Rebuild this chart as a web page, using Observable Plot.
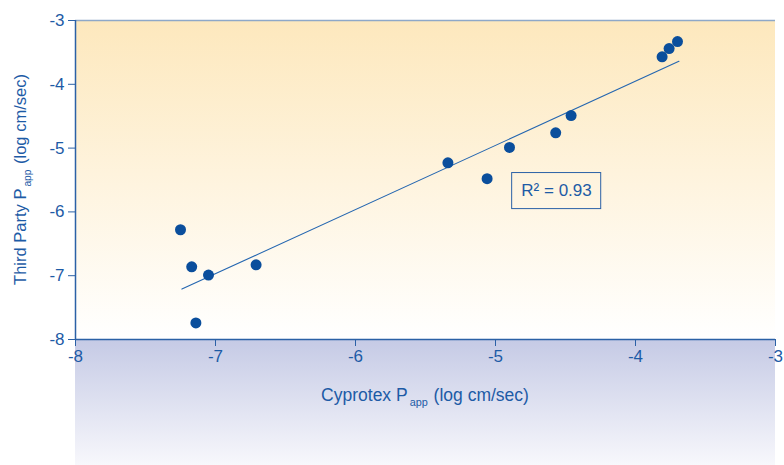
<!DOCTYPE html>
<html>
<head>
<meta charset="utf-8">
<script src="https://cdn.jsdelivr.net/npm/d3@7"></script>
<script src="https://cdn.jsdelivr.net/npm/@observablehq/plot@0.6"></script>
<style>
  html, body { margin: 0; padding: 0; background: #ffffff; }
  #chart svg { display: block; }
</style>
</head>
<body>
<div id="chart"></div>
<script>
// Data
const cyprotex   = [-7.25, -7.17, -7.05, -7.14, -6.71, -5.34, -5.06, -4.90, -4.57, -4.46, -3.81, -3.76, -3.70];
const thirdParty = [-6.28, -6.86, -6.99, -7.74, -6.83, -5.23, -5.48, -4.99, -4.76, -4.49, -3.57, -3.44, -3.33];
const fitX = [-7.24, -3.69];
const fitY = [-7.21, -3.64];
const xTicks = [-8, -7, -6, -5, -4, -3];
const yTicks = [-8, -7, -6, -5, -4, -3];
const r2Label = "R\u00B2 = 0.93";
const r2Pos = {x: -4.564, y: -5.67};
const r2Box = {x1: -4.881, x2: -4.245, y1: -5.391, y2: -5.956};
const xLabel = ["Cyprotex P", "app", " (log cm/sec)"];
const yLabel = ["Third Party P", "app", " (log cm/sec)"];

const points = cyprotex.map((x, i) => ({x, y: thirdParty[i]}));
const fit = fitX.map((x, i) => ({x, y: fitY[i]}));

const ink = "#1d5ba6";
const axisStroke = "#2b61a6";
const fmt = d => String(d);
const font = "'Liberation Sans', Arial, sans-serif";

const svg = Plot.plot({
  width: 784,
  height: 465,
  marginLeft: 75,
  marginRight: 9,
  marginTop: 20,
  marginBottom: 126,
  style: {background: "#ffffff", fontFamily: font, fontSize: "17px", color: ink},
  x: {domain: [-8, -3], label: null},
  y: {domain: [-8, -3], label: null},
  marks: [
    Plot.rect([0], {x1: -8, x2: -3, y1: -8, y2: -3, fill: "url(#plotGrad)"}),
    Plot.rect([0], {x1: -8, x2: -3, y1: -8, y2: -10, fill: "url(#bandGrad)"}),
    Plot.ruleY([-3], {stroke: "#8ea8c8", strokeWidth: 1.5}),
    Plot.axisX({ticks: xTicks, tickFormat: fmt, tickSize: 7, tickPadding: 3, stroke: axisStroke, fill: ink, fontSize: 17, label: null}),
    Plot.axisY({ticks: yTicks, tickFormat: fmt, tickSize: 7, tickPadding: 4, stroke: axisStroke, fill: ink, fontSize: 17, label: null}),
    Plot.ruleX([-8], {stroke: axisStroke, strokeWidth: 1.5}),
    Plot.ruleY([-8], {stroke: axisStroke, strokeWidth: 1.5}),
    Plot.line(fit, {x: "x", y: "y", stroke: "#2466b0", strokeWidth: 1.1}),
    Plot.dot(points, {x: "x", y: "y", r: 5.5, fill: "#0a4e9c"}),
    Plot.rect([r2Box], {x1: "x1", x2: "x2", y1: "y1", y2: "y2", fill: "none", stroke: axisStroke, strokeWidth: 1}),
    Plot.text([r2Pos], {x: "x", y: "y", text: () => r2Label, fill: ink, fontSize: 17})
  ]
});

const s = d3.select(svg);
s.insert("defs", ":first-child").html(`
  <linearGradient id="plotGrad" x1="0" y1="0" x2="0" y2="1">
    <stop offset="0" stop-color="#fde8bd"/>
    <stop offset="1" stop-color="#ffffff"/>
  </linearGradient>
  <linearGradient id="bandGrad" x1="0" y1="0" x2="0" y2="1">
    <stop offset="0" stop-color="#c5cae5"/>
    <stop offset="1" stop-color="#f8f8fc"/>
  </linearGradient>
`);

const xs = svg.scale("x"), ys = svg.scale("y");
const cx = (xs.range[0] + xs.range[1]) / 2;
const cy = (ys.range[0] + ys.range[1]) / 2;

function addLabel(parts, x, y, rotate, size) {
  const t = s.append("text")
    .attr("text-anchor", "middle")
    .attr("fill", ink)
    .attr("font-family", font)
    .attr("font-size", size)
    .attr("transform", `translate(${x},${y})` + (rotate ? " rotate(-90)" : ""));
  t.append("tspan").text(parts[0]);
  t.append("tspan").attr("font-size", size * 0.62).attr("dx", 2).attr("dy", 5).text(parts[1]);
  t.append("tspan").attr("dx", 1).attr("dy", -5).text(parts[2]);
}
addLabel(xLabel, cx, 401, false, 17.5);
addLabel(yLabel, 26, cy, true, 16.5);

document.getElementById("chart").appendChild(svg);
</script>
</body>
</html>
